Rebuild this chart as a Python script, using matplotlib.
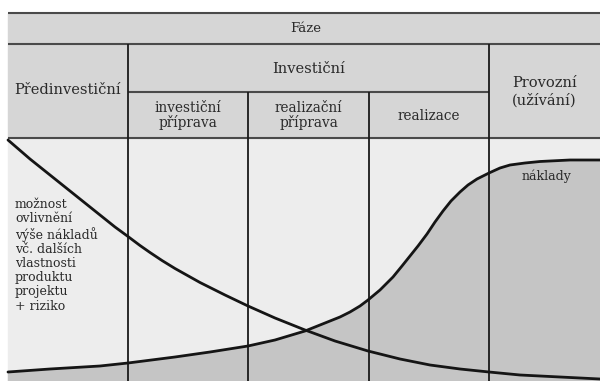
import matplotlib
matplotlib.use("Agg")
import matplotlib.pyplot as plt
from matplotlib.patches import Rectangle

plt.rcParams['font.family'] = ['DejaVu Serif']

# column edges of the phase table (pixel positions)
col_edges = [8, 128, 248, 369, 489, 600]
row_lines = [13, 44, 92, 138]

phase_top = "Fáze"
phase_main = ["Předinvestiční", "Investiční", "Provozní\n(užívání)"]
phase_sub = ["investiční\npříprava", "realizační\npříprava", "realizace"]

left_label = ["možnost", "ovlivnění", "výše nákladů", "vč. dalších",
              "vlastnosti", "produktu", "projektu", "+ riziko"]
cost_label = "náklady"

# influence curve (falls over time)
infl_x = [8, 30, 50, 75, 100, 115, 128, 140, 150, 162, 175, 200, 225, 248, 275,
          305, 335, 368, 400, 430, 460, 489, 520, 560, 600]
infl_y = [140, 159, 175, 195, 215, 227, 236.5, 245.5, 252.5, 260.5, 268.5, 282.5,
          295, 306, 318, 330, 341, 351, 359, 365, 369, 372, 375, 377, 379]

# cumulative cost curve (S-shape)
cost_x = [8, 50, 100, 128, 175, 210, 248, 275, 305, 330, 340, 350, 360, 368, 380,
          393, 402, 410, 418, 427, 435, 443, 451, 460, 468, 477, 489,
          500, 510, 525, 540, 570, 600]
cost_y = [372, 369, 366, 363, 357, 352, 346, 340, 331, 321, 317, 312, 306, 300, 290,
          277, 266, 256, 246, 234, 222, 211, 201, 192, 185, 179, 173,
          168, 165, 163, 161.5, 160, 160]

W, H = 600, 381
fig = plt.figure(figsize=(6, 3.81), dpi=100)
ax = fig.add_axes([0, 0, 1, 1])
ax.set_xlim(0, W)
ax.set_ylim(H, 0)
ax.axis('off')

x0, x1 = col_edges[0], col_edges[-1]
txt = '#2a2a2a'
lc = '#1a1a1a'

# backgrounds
ax.add_patch(Rectangle((x0, row_lines[0]), x1 - x0, row_lines[-1] - row_lines[0],
                       color='#d6d6d6', zorder=0))
ax.add_patch(Rectangle((x0, row_lines[-1]), x1 - x0, H - row_lines[-1],
                       color='#ededed', zorder=0))

# shaded area under cost curve
ax.fill_between(cost_x, cost_y, H, color='#c5c5c5', zorder=1)

# table lines
ax.hlines([row_lines[0], row_lines[1], row_lines[3]], x0, x1, color='#4a4a4a', lw=1.5, zorder=3)
ax.hlines(row_lines[2], col_edges[1], col_edges[4], color='#4a4a4a', lw=1.5, zorder=3)
ax.vlines([col_edges[1], col_edges[4]], row_lines[1], H, color=lc, lw=1.3, zorder=3)
ax.vlines([col_edges[2], col_edges[3]], row_lines[2], H, color=lc, lw=1.3, zorder=3)

# curves
ax.plot(infl_x, infl_y, color='#151515', lw=2.0, zorder=4, solid_capstyle='round')
ax.plot(cost_x, cost_y, color='#151515', lw=2.0, zorder=4, solid_capstyle='round')

# header texts
ax.text((x0 + x1) / 2 + 2, (row_lines[0] + row_lines[1]) / 2, phase_top,
        ha='center', va='center', fontsize=9.5, color=txt)
ax.text((col_edges[0] + col_edges[1]) / 2, 90,
        phase_main[0], ha='center', va='center', fontsize=10.5, color=txt)
ax.text((col_edges[1] + col_edges[4]) / 2, 69,
        phase_main[1], ha='center', va='center', fontsize=10.5, color=txt)
ax.text((col_edges[4] + col_edges[5]) / 2, 92,
        phase_main[2], ha='center', va='center', fontsize=10.5, color=txt,
        linespacing=1.24)
for i, s in enumerate(phase_sub):
    ax.text((col_edges[i + 1] + col_edges[i + 2]) / 2, 115.5,
            s, ha='center', va='center', fontsize=9.8, color=txt, linespacing=1.05)

# labels in the chart
ax.text(15, 198, "\n".join(left_label), ha='left', va='top', fontsize=9,
        color=txt, linespacing=1.12, zorder=5)
ax.text(522, 176, cost_label, ha='left', va='center', fontsize=9, color=txt, zorder=5)

fig.savefig('out.png', dpi=100, facecolor='white')
